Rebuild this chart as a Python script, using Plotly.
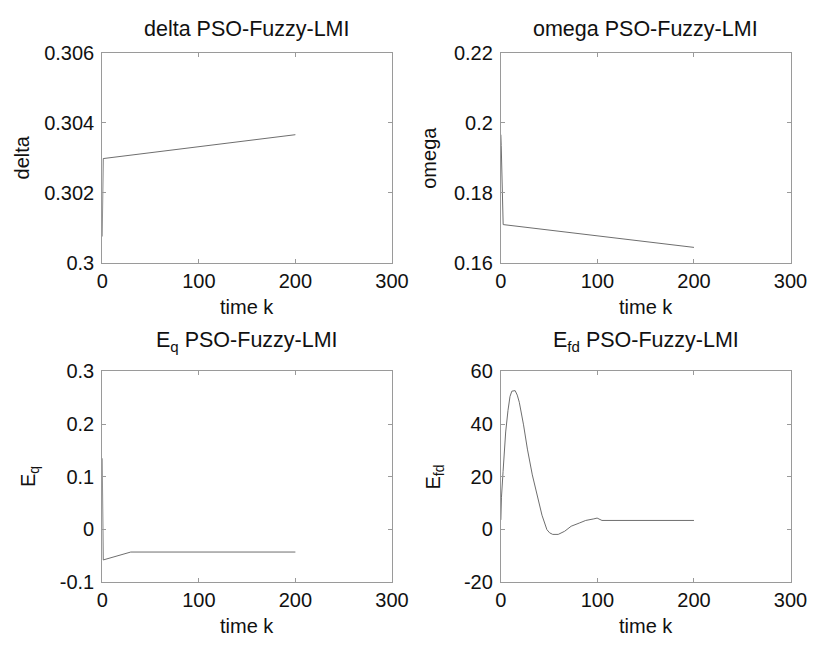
import plotly.graph_objects as go

# ---- data ----
delta_k = [0, 1, 200]
delta_v = [0.30076, 0.30298, 0.30366]

omega_k = [0, 0.4, 2.4, 200]
omega_v = [0.1966, 0.1935, 0.1710, 0.1645]

eq_k = [0, 1, 29.5, 200]
eq_v = [0.135, -0.058, -0.043, -0.043]

efd_k = [0, 0.6, 2.3, 5.0, 7.4, 9.5, 11.4, 14.8, 17.0, 19.1, 23.5, 27.5, 32.6, 37.6, 42.6, 47.7,
         50.5, 53.7, 59.4, 66.1, 72.8, 81.2, 87.9, 96.3, 99.7, 104.7, 200]
efd_v = [3.6, 12.0, 22.0, 37.0, 45.2, 50.5, 52.5, 52.7, 51.0, 48.3, 39.7, 30.5, 20.7, 13.4, 5.4, -0.1,
         -1.3, -1.9, -1.9, -0.7, 1.2, 2.4, 3.4, 4.0, 4.3, 3.4, 3.4]

titles = ["delta PSO-Fuzzy-LMI", "omega PSO-Fuzzy-LMI",
          "E<sub>q</sub> PSO-Fuzzy-LMI", "E<sub>fd</sub> PSO-Fuzzy-LMI"]
ylabels = ["delta", "omega", "E<sub>q</sub>", "E<sub>fd</sub>"]
xlabel = "time k"
xticks = [0, 100, 200, 300]
yticks = [[0.300, 0.302, 0.304, 0.306], [0.16, 0.18, 0.20, 0.22],
          [-0.1, 0, 0.1, 0.2, 0.3], [-20, 0, 20, 40, 60]]
ytext = [["0.3", "0.302", "0.304", "0.306"], ["0.16", "0.18", "0.2", "0.22"],
         ["-0.1", "0", "0.1", "0.2", "0.3"], ["-20", "0", "20", "40", "60"]]
yranges = [[0.300, 0.306], [0.16, 0.22], [-0.1, 0.3], [-20, 60]]

W, H = 827, 652
FONT = "Liberation Sans, Arial, sans-serif"
LINE = "#6e6e6e"
FRAME = "#9a9a9a"
TXT = "#111111"

# pixel boxes of the four axes: (left, right, top, bottom)
boxes = [(99, 397, 43, 261), (509, 807, 43, 261),
         (99, 397, 373, 591), (509, 807, 373, 591)]
ylab_x = [16, 435, 24, 441]
title_y = [19, 19, 342, 342]

fig = go.Figure()
series = [(delta_k, delta_v), (omega_k, omega_v), (eq_k, eq_v), (efd_k, efd_v)]
annotations = []
for i, ((xs, ys), (l, r, t, b)) in enumerate(zip(series, boxes)):
    n = "" if i == 0 else str(i + 1)
    fig.add_trace(go.Scatter(x=xs, y=ys, mode="lines",
                             line=dict(color=LINE, width=1),
                             xaxis="x" + n, yaxis="y" + n, showlegend=False))
    common = dict(showgrid=False, zeroline=False, showline=True, linecolor=FRAME,
                  linewidth=1, mirror="ticks", ticks="inside", ticklen=4,
                  tickcolor=FRAME, tickfont=dict(family=FONT, size=20, color=TXT))
    fig.update_layout(**{
        "xaxis" + n: dict(domain=[l / W, r / W], anchor="y" + n, range=[0, 300],
                          tickvals=xticks, **common),
        "yaxis" + n: dict(domain=[1 - b / H, 1 - t / H], anchor="x" + n,
                          range=yranges[i], tickvals=yticks[i], ticktext=ytext[i],
                          ticklabelstandoff=3, **common),
    })
    cx = (l + r) / 2
    annotations.append(dict(text=titles[i], x=cx / W, y=1 - title_y[i] / H,
                            xref="paper", yref="paper", xanchor="center", yanchor="middle",
                            showarrow=False, font=dict(family=FONT, size=21.5, color=TXT)))
    annotations.append(dict(text=xlabel, x=cx / W, y=1 - (b + 45) / H,
                            xref="paper", yref="paper", xanchor="center", yanchor="middle",
                            showarrow=False, font=dict(family=FONT, size=20, color=TXT)))
    annotations.append(dict(text=ylabels[i], x=ylab_x[i] / W, y=1 - (t + b) / 2 / H,
                            xref="paper", yref="paper", xanchor="center", yanchor="middle",
                            textangle=-90, showarrow=False,
                            font=dict(family=FONT, size=20, color=TXT)))

fig.update_layout(width=W, height=H, margin=dict(l=0, r=0, t=0, b=0),
                  paper_bgcolor="white", plot_bgcolor="white",
                  annotations=annotations)
fig.write_html("out.html")
